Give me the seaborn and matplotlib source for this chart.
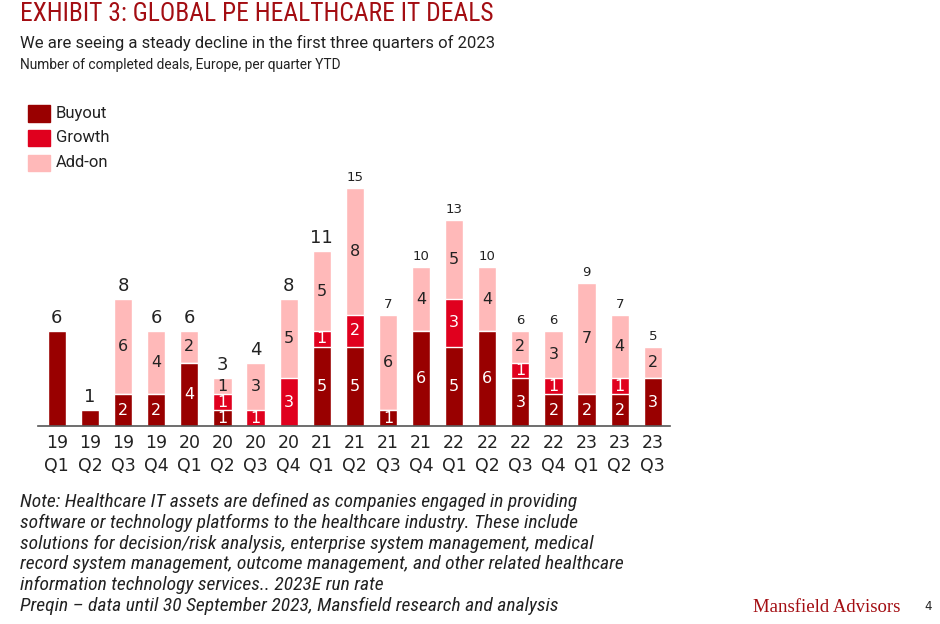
import numpy as np
import matplotlib
matplotlib.use("Agg")
import matplotlib.pyplot as plt
import seaborn as sns

sns.set_theme(style="white")
plt.rcParams['font.family'] = ['Roboto', 'DejaVu Sans']

# data: completed deals per quarter
quarters = ["19\nQ1", "19\nQ2", "19\nQ3", "19\nQ4", "20\nQ1", "20\nQ2", "20\nQ3", "20\nQ4",
            "21\nQ1", "21\nQ2", "21\nQ3", "21\nQ4", "22\nQ1", "22\nQ2", "22\nQ3", "22\nQ4",
            "23\nQ1", "23\nQ2", "23\nQ3"]
buyout = [6, 1, 2, 2, 4, 1, 0, 0, 5, 5, 1, 6, 5, 6, 3, 2, 2, 2, 3]
growth = [0, 0, 0, 0, 0, 1, 1, 3, 1, 2, 0, 0, 3, 0, 1, 1, 0, 1, 0]
addon = [0, 0, 6, 4, 2, 1, 3, 5, 5, 8, 6, 4, 5, 4, 2, 3, 7, 4, 2]
# the source uses smaller total labels from 21Q2 on
total_label_size = [13] * 9 + [9.5] * 10

C_BUY = "#990000"
C_GRO = "#E0001E"
C_ADD = "#FFB9B9"
DARK_RED = "#A30D12"
NUM_FONT = "DejaVu Sans"
CONDENSED = ["Roboto Condensed", "Liberation Sans Narrow", "Roboto", "DejaVu Sans"]

buyout = np.array(buyout)
growth = np.array(growth)
addon = np.array(addon)
totals = buyout + growth + addon
x = np.arange(len(quarters))

fig = plt.figure(figsize=(9.4, 6.24), dpi=100)
ax = fig.add_axes([38 / 940, 198 / 624, 632 / 940, 254 / 624])

# stacked bars drawn as overlaid cumulative sums
sns.barplot(x=x, y=totals, color=C_ADD, width=0.55, saturation=1, ax=ax)
sns.barplot(x=x, y=buyout + growth, color=C_GRO, width=0.55, saturation=1, ax=ax)
sns.barplot(x=x, y=buyout, color=C_BUY, width=0.55, saturation=1, ax=ax)

for i in x:
    segs = [(buyout[i], 0, "white"), (growth[i], buyout[i], "white"),
            (addon[i], buyout[i] + growth[i], "#222222")]
    nonzero = sum(1 for s in segs if s[0] > 0)
    if nonzero > 1:
        for val, base, col in segs:
            if val > 0:
                ax.text(i, base + val / 2, str(val), ha="center", va="center",
                        fontsize=11.5, color=col, family=NUM_FONT)
    ax.text(i, totals[i] + 0.25, str(totals[i]), ha="center", va="bottom",
            fontsize=total_label_size[i], color="#222222", family=NUM_FONT,
            clip_on=False)

ax.set_xlim(-0.57, 18.52)
ax.set_ylim(0, 16)
ax.set_xticks(x)
ax.set_xticklabels(quarters, fontsize=12.5, color="#222222", family=NUM_FONT,
                   linespacing=1.3)
ax.set_yticks([])
ax.tick_params(axis="x", length=0, pad=6)
sns.despine(ax=ax, left=True)
ax.spines["bottom"].set_color("#555555")
ax.spines["bottom"].set_linewidth(1.2)
ax.set_xlabel("")
ax.set_ylabel("")

# titles
fig.text(20 / 940, 1 - 14 / 624, "EXHIBIT 3: GLOBAL PE HEALTHCARE IT DEALS",
         fontsize=18.4, color=DARK_RED, va="center", ha="left", family=CONDENSED)
fig.text(20 / 940, 1 - 43 / 624, "We are seeing a steady decline in the first three quarters of 2023",
         fontsize=12, color="#222222", va="center")
fig.text(20 / 940, 1 - 65 / 624, "Number of completed deals, Europe, per quarter YTD",
         fontsize=9.9, color="#222222", va="center")

# legend
for k, (lab, col) in enumerate([("Buyout", C_BUY), ("Growth", C_GRO), ("Add-on", C_ADD)]):
    yc = 113.5 + k * 24.5
    fig.patches.append(plt.Rectangle((28 / 940, 1 - (yc + 8) / 624), 22 / 940, 16 / 624,
                                     color=col, transform=fig.transFigure))
    fig.text(56 / 940, 1 - yc / 624, lab, fontsize=12, color="#222222", va="center")

note = ("Note: Healthcare IT assets are defined as companies engaged in providing\n"
        "software or technology platforms to the healthcare industry. These include\n"
        "solutions for decision/risk analysis, enterprise system management, medical\n"
        "record system management, outcome management, and other related healthcare\n"
        "information technology services.. 2023E run rate\n"
        "Preqin \u2013 data until 30 September 2023, Mansfield research and analysis")
fig.text(20 / 940, 1 - 493 / 624, note, fontsize=14, style="italic", color="#222222",
         va="top", ha="left", linespacing=1.19, family=CONDENSED)

fig.text(900 / 940, 1 - 607 / 624, "Mansfield Advisors", fontsize=13.5, color=DARK_RED,
         ha="right", va="center", family="Liberation Serif")
fig.text(924 / 940, 1 - 607 / 624, "4", fontsize=8.5, color="#222222", va="center",
         family=NUM_FONT)

fig.savefig("out.png", dpi=100)
